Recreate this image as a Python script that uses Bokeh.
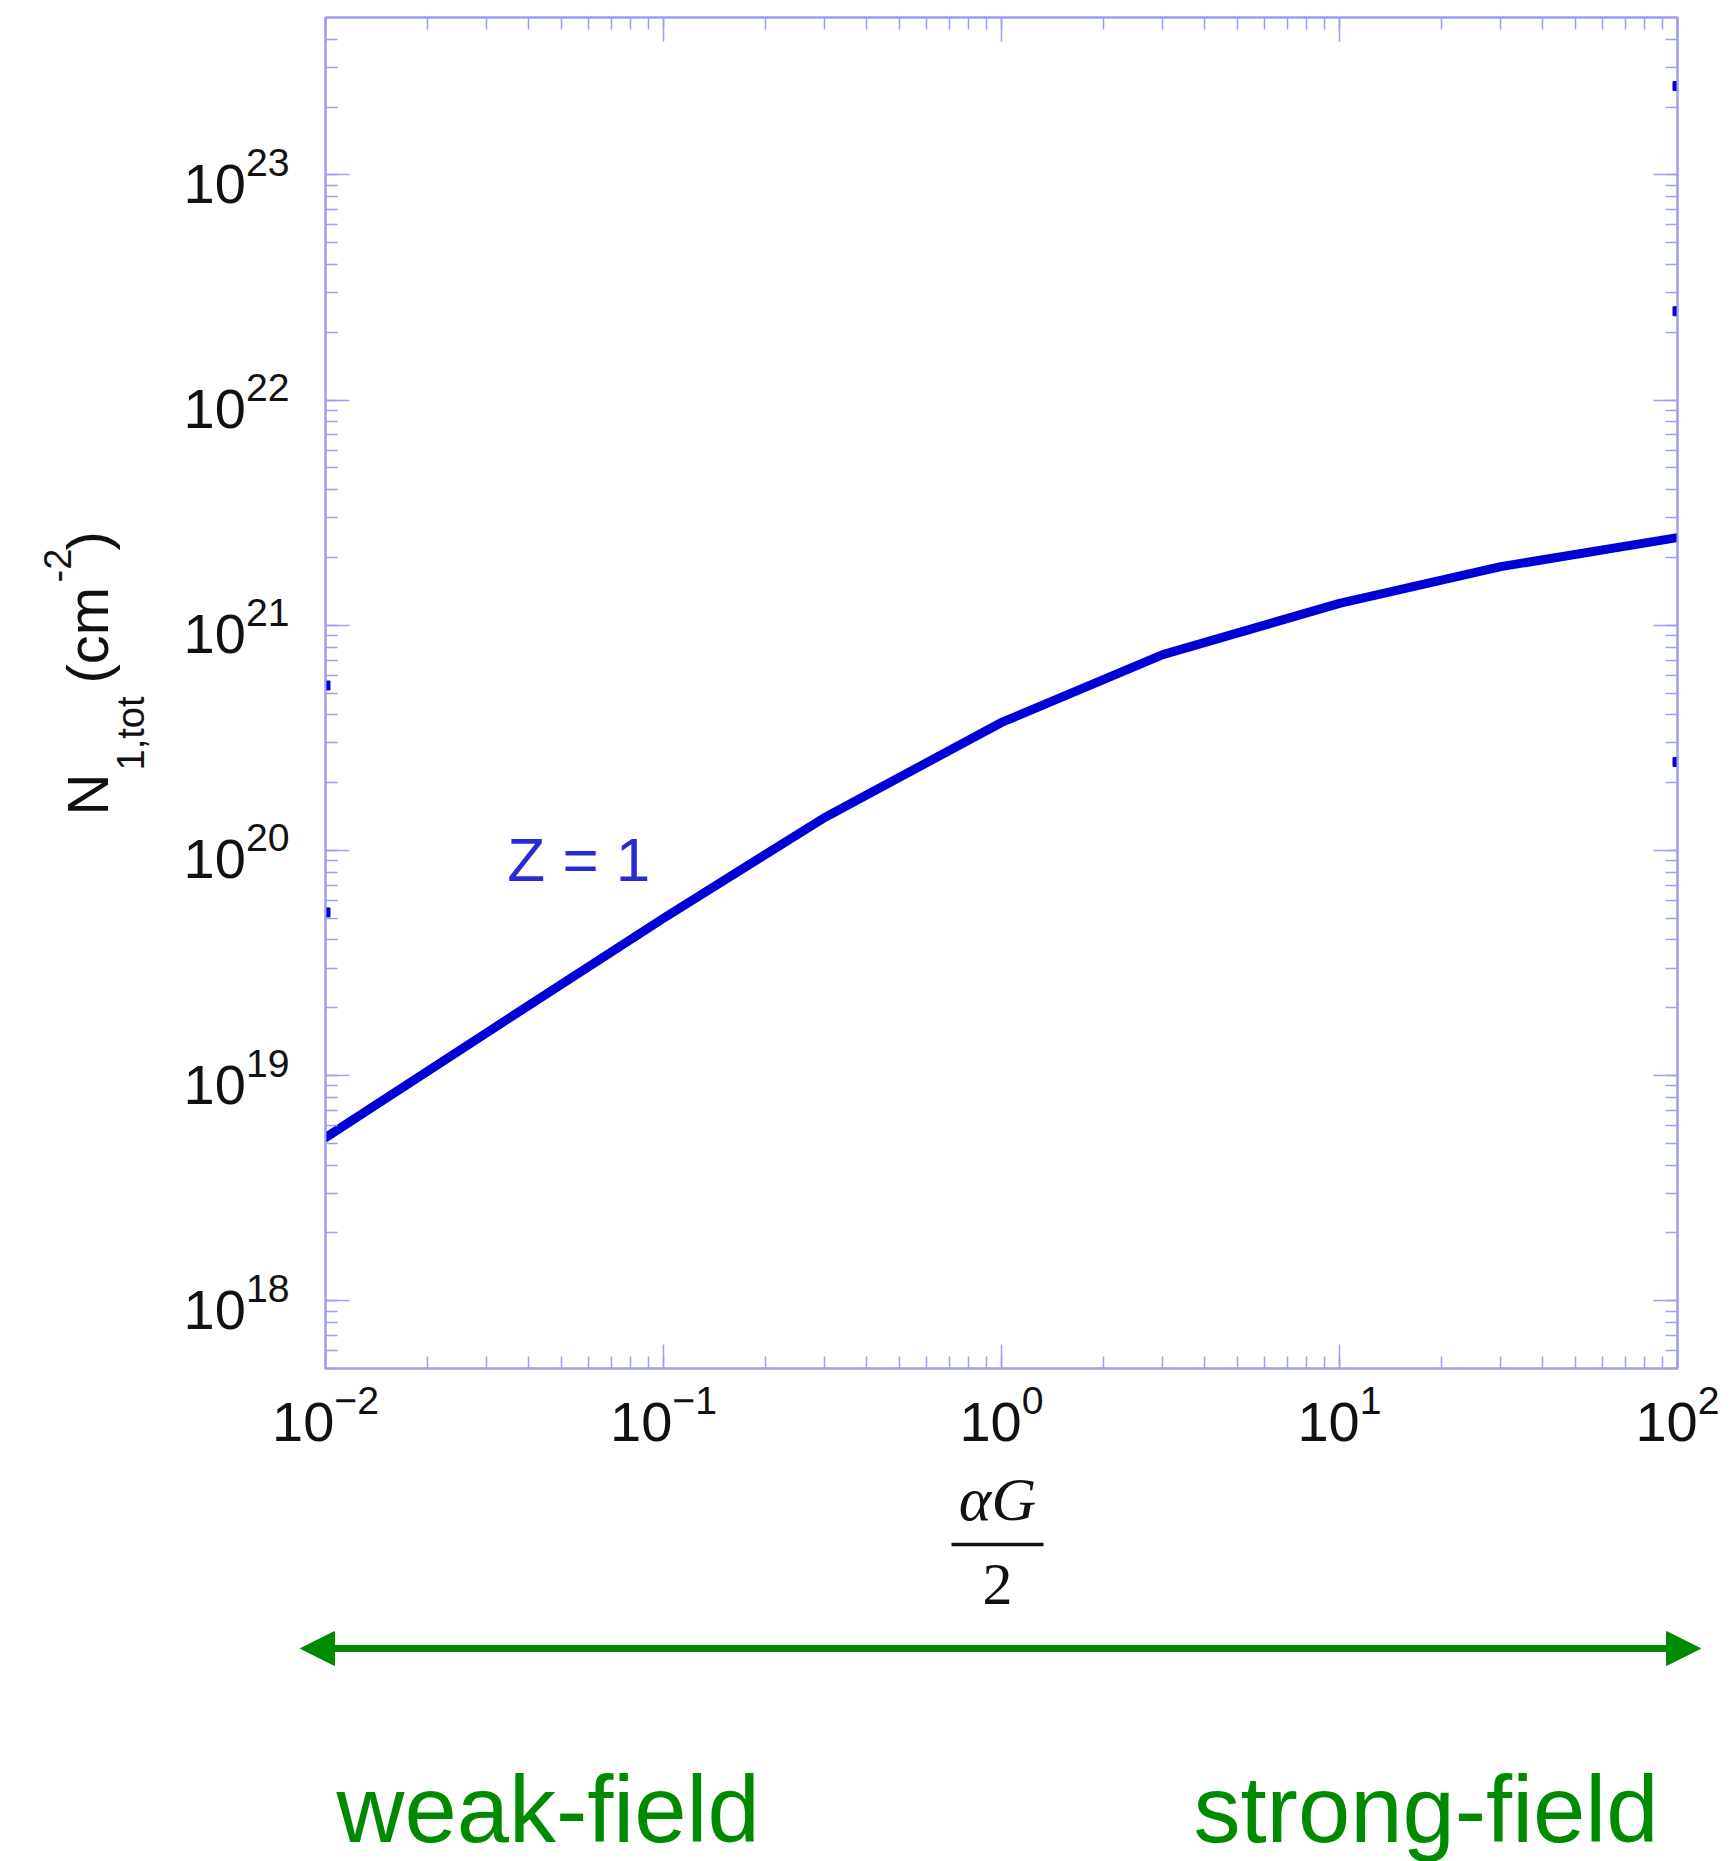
import math
from bokeh.plotting import figure
from bokeh.layouts import column, row
from bokeh.models import LogAxis, Arrow, NormalHead, Range1d, LogTicker
from bokeh.core.properties import value
from bokeh.embed import file_html
from bokeh.resources import INLINE

# ---- data ----
x_vals = [0.01, 0.03, 0.1, 0.3, 1, 3, 10, 30, 100]          # alpha G / 2
n_vals = [5.3e18, 1.55e19, 5.0e19, 1.4e20, 3.7e20, 7.4e20, 1.25e21, 1.82e21, 2.45e21]  # N_1,tot (cm^-2)
remnant_x = [100, 100, 100, 0.01, 0.01]
remnant_y = [2.48e23, 2.48e22, 2.47e20, 5.4e20, 5.3e19]
x_limits = (0.01, 100)
y_limits = (5e17, 5e23)
curve_label = "Z = 1"
ylabel_parts = ["N", "1,tot", "(cm", "-2", ")"]
xlabel_num, xlabel_den = "αG", "2"
left_text = "weak-field"
right_text = "strong-field"

W, H = 1734, 1861
TOP_H = 1460           # height of the row holding the plot
YL_W = 160             # width of the y-label strip
L, R, T = 325, 57, 17
FRAME_BOTTOM = 1368
AX = "#9d9df2"
BLUE = "#0000d4"
GREEN = "#008a00"
SANS = "Liberation Sans"
SERIF = "Liberation Serif"
SHIFT = 0.35           # baseline correction (fraction of font size)

def blank(w, h, xr, yr, top=0, bottom=0):
    f = figure(width=w, height=h, x_range=Range1d(*xr), y_range=Range1d(*yr),
               x_axis_type=None, y_axis_type=None, output_backend="svg", toolbar_location=None,
               min_border_left=0, min_border_right=0, min_border_top=top, min_border_bottom=bottom)
    f.grid.visible = False
    f.outline_line_color = None
    f.background_fill_color = "white"
    f.border_fill_color = "white"
    return f

# ---------------- main plot ----------------
p = figure(width=W - YL_W, height=TOP_H, x_axis_type="log", y_axis_type="log",
           x_range=Range1d(*x_limits), y_range=Range1d(*y_limits),
           output_backend="svg", toolbar_location=None,
           min_border_left=L - YL_W, min_border_right=R, min_border_top=T,
           min_border_bottom=TOP_H - FRAME_BOTTOM)
p.grid.visible = False
p.outline_line_color = AX
p.outline_line_width = 2
p.background_fill_color = "white"
p.border_fill_color = "white"

def style(ax, labels=True):
    ax.ticker = LogTicker(num_minor_ticks=10, desired_num_ticks=8)
    ax.axis_line_color = AX
    ax.axis_line_width = 2
    ax.major_tick_line_color = AX
    ax.major_tick_line_width = 1.5
    ax.minor_tick_line_color = AX
    ax.minor_tick_line_width = 1.5
    ax.major_tick_in = 24
    ax.major_tick_out = 0
    ax.minor_tick_in = 12
    ax.minor_tick_out = 0
    if labels:
        ax.major_label_text_font = SANS
        ax.major_label_text_font_size = "56px"
        ax.major_label_text_color = "#111111"
    else:
        ax.major_label_text_font_size = "2px"
        ax.major_label_text_alpha = 0
        ax.major_label_standoff = 0

style(p.xaxis[0])
p.xaxis[0].major_label_standoff = 16
style(p.yaxis[0])
p.yaxis[0].major_label_standoff = 36

top = LogAxis(); style(top, labels=False)
right = LogAxis(); style(right, labels=False)
p.add_layout(top, "above")
p.add_layout(right, "right")

p.line(x_vals, n_vals, line_color=BLUE, line_width=9, line_cap="round", line_join="round")
p.scatter(remnant_x, remnant_y, size=9, color=BLUE, marker="square")
p.text(x=[0.0345], y=[9.1e19], text=[curve_label], text_font=value(SANS),
       text_font_size="62px", text_color="#2b2bd6", text_align="left", text_baseline="alphabetic")

# ---------------- y-axis label strip (frame aligned with the plot frame) ----------------
yl = blank(YL_W, TOP_H, (0, YL_W), (-FRAME_BOTTOM, -T), top=T, bottom=TOP_H - FRAME_BOTTOM)
ylab_fs = [58, 38, 58, 38, 58]
ylab_base_x = [107, 144, 107, 70, 107]
ylab_start_y = [815, 770, 683, 582, 550]
yl.text(x=[bx - SHIFT * fs for bx, fs in zip(ylab_base_x, ylab_fs)],
        y=[-py for py in ylab_start_y], text=ylabel_parts, angle=math.pi / 2,
        text_font=value(SANS), text_font_size=[f"{fs}px" for fs in ylab_fs],
        text_color="#111111", text_align="left", text_baseline="alphabetic")

# ---------------- bottom strip ----------------
BH = H - TOP_H
bt = blank(W, BH, (0, W), (0, BH))
def by(py, fs=0): return H - (py - SHIFT * fs)
bt.text(x=[997], y=[by(1520, 62)], text=[xlabel_num], text_font=value(SERIF), text_font_style="italic",
        text_font_size="62px", text_color="#111111", text_align="center", text_baseline="alphabetic")
bt.segment(x0=[951], y0=[by(1544)], x1=[1043], y1=[by(1544)], line_color="#111111", line_width=3.5)
bt.text(x=[997], y=[by(1605, 60)], text=[xlabel_den], text_font=value(SERIF),
        text_font_size="60px", text_color="#111111", text_align="center", text_baseline="alphabetic")
bt.add_layout(Arrow(start=NormalHead(size=34, fill_color=GREEN, line_color=GREEN),
                    end=NormalHead(size=34, fill_color=GREEN, line_color=GREEN),
                    x_start=300, y_start=by(1648), x_end=1700, y_end=by(1648),
                    line_color=GREEN, line_width=7))
bt.text(x=[336, 1193], y=[by(1840, 90), by(1840, 90)], text=[left_text, right_text], text_font=value(SANS),
        text_font_size="94px", text_color=GREEN, text_align="left", text_baseline="alphabetic")

layout = column(row(yl, p, spacing=0), bt, spacing=0)
open("out.html", "w").write(file_html(layout, INLINE))
